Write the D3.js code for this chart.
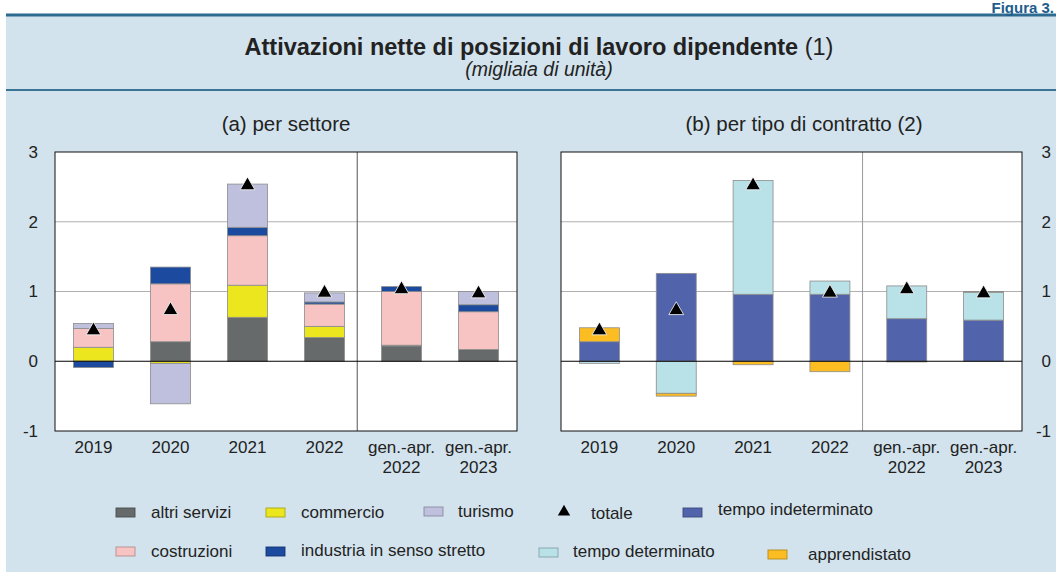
<!DOCTYPE html>
<html>
<head>
<meta charset="utf-8">
<script src="https://cdn.jsdelivr.net/npm/d3@7"></script>
<style>
  body { margin: 0; background: #fff; }
  svg { display: block; font-family: "Liberation Sans", Arial, sans-serif; }
</style>
</head>
<body>
<div id="chart"></div>
<script>
// categories on the x axis (line breaks with \n)
const categories = ["2019", "2020", "2021", "2022", "gen.-apr.\n2022", "gen.-apr.\n2023"];

// (a) per settore
const altriServizi = [0.00, 0.28, 0.63, 0.34, 0.22, 0.17];
const commercio    = [0.20, -0.03, 0.46, 0.16, 0.01, 0.00];
const costruzioni  = [0.27, 0.83, 0.71, 0.32, 0.77, 0.54];
const industria    = [-0.09, 0.24, 0.12, 0.03, 0.07, 0.10];
const turismo      = [0.07, -0.58, 0.62, 0.13, 0.00, 0.19];

// (b) per tipo di contratto
const tempoIndeterminato = [0.28, 1.26, 0.96, 0.96, 0.61, 0.59];
const tempoDeterminato   = [-0.03, -0.46, 1.63, 0.19, 0.47, 0.40];
const apprendistato      = [0.20, -0.04, -0.05, -0.15, -0.01, 0.01];

// totale (same for both panels)
const totale = [0.44, 0.73, 2.52, 0.98, 1.03, 0.97];

const yTicks = [-1, 0, 1, 2, 3];

const colors = {
  "altri servizi": "#676a6a",
  "commercio": "#ebe61e",
  "turismo": "#bfc0de",
  "costruzioni": "#f7c3c3",
  "industria in senso stretto": "#1b4a9e",
  "tempo indeterminato": "#5163ab",
  "tempo determinato": "#b8e1e8",
  "apprendistato": "#fbbd22"
};

const width = 1056;
const height = 572;
const plotTop = 152;
const plotBottom = 431;

const svg = d3.select("#chart")
  .append("svg")
  .attr("width", width)
  .attr("height", height)
  .attr("viewBox", [0, 0, width, height]);

// light blue background and the two rules of the header
svg.append("rect")
  .attr("x", 6).attr("y", 16)
  .attr("width", width - 6).attr("height", height - 16)
  .attr("fill", "#d2e3ed");

svg.append("line")
  .attr("x1", 6).attr("x2", width).attr("y1", 15).attr("y2", 15)
  .attr("stroke", "#2c6b8f").attr("stroke-width", 3);

svg.append("line")
  .attr("x1", 6).attr("x2", width).attr("y1", 90).attr("y2", 90)
  .attr("stroke", "#3a7394").attr("stroke-width", 2);

svg.append("text")
  .attr("x", 1054).attr("y", 13)
  .attr("text-anchor", "end")
  .attr("font-size", 15)
  .attr("font-weight", "bold")
  .attr("fill", "#1d5d8e")
  .text("Figura 3.");

const title = svg.append("text")
  .attr("x", 539).attr("y", 55)
  .attr("text-anchor", "middle")
  .attr("font-size", 23.5)
  .attr("fill", "#222");
title.append("tspan").attr("font-weight", "bold").text("Attivazioni nette di posizioni di lavoro dipendente");
title.append("tspan").text(" (1)");

svg.append("text")
  .attr("x", 539).attr("y", 76)
  .attr("text-anchor", "middle")
  .attr("font-size", 19.5)
  .attr("font-style", "italic")
  .attr("fill", "#222")
  .text("(migliaia di unità)");

const y = d3.scaleLinear()
  .domain([-1, 3])
  .range([plotBottom, plotTop]);

function drawPanel(opts) {
  const x = d3.scaleBand()
    .domain(categories)
    .range([opts.left, opts.right])
    .paddingInner(0.48)
    .paddingOuter(0.24);

  const rows = categories.map((c, i) => {
    const r = { cat: c };
    opts.series.forEach(s => { r[s.name] = s.values[i]; });
    return r;
  });

  const stacked = d3.stack()
    .keys(opts.series.map(s => s.name))
    .offset(d3.stackOffsetDiverging)(rows);

  const g = svg.append("g");

  // plot area
  g.append("rect")
    .attr("x", opts.left).attr("y", plotTop)
    .attr("width", opts.right - opts.left).attr("height", plotBottom - plotTop)
    .attr("fill", "#fff");

  // gridlines
  g.append("g")
    .selectAll("line")
    .data([1, 2])
    .join("line")
    .attr("x1", opts.left).attr("x2", opts.right)
    .attr("y1", d => y(d)).attr("y2", d => y(d))
    .attr("stroke", "#b0b0b0");

  // separator between years and gen.-apr.
  const sepX = x(categories[4]) - (x.step() - x.bandwidth()) / 2 - x.step() * 0.075;
  g.append("line")
    .attr("x1", sepX).attr("x2", sepX)
    .attr("y1", plotTop).attr("y2", plotBottom)
    .attr("stroke", opts.sepColor);

  // bars
  g.append("g")
    .selectAll("g")
    .data(stacked)
    .join("g")
    .attr("fill", d => colors[d.key])
    .selectAll("rect")
    .data(d => d.filter(p => Math.abs(p[1] - p[0]) > 1e-9))
    .join("rect")
    .attr("x", d => x(d.data.cat))
    .attr("y", d => y(d[1]))
    .attr("width", x.bandwidth())
    .attr("height", d => y(d[0]) - y(d[1]))
    .attr("stroke", "#8c8c8c")
    .attr("stroke-width", 0.8);

  // zero line
  g.append("line")
    .attr("x1", opts.left).attr("x2", opts.right)
    .attr("y1", y(0)).attr("y2", y(0))
    .attr("stroke", "#000").attr("stroke-width", 1.2);

  // totale
  g.append("g")
    .selectAll("path")
    .data(totale)
    .join("path")
    .attr("transform", (d, i) => `translate(${x(categories[i]) + x.bandwidth() / 2},${y(d)})`)
    .attr("d", d3.symbol(d3.symbolTriangle, 95))
    .attr("fill", "#000")
    .attr("stroke", "#fff")
    .attr("stroke-width", 0.8);

  // frame
  g.append("rect")
    .attr("x", opts.left).attr("y", plotTop)
    .attr("width", opts.right - opts.left).attr("height", plotBottom - plotTop)
    .attr("fill", "none")
    .attr("stroke", "#111");

  // x labels
  g.append("g")
    .attr("font-size", 17)
    .attr("fill", "#222")
    .attr("text-anchor", "middle")
    .selectAll("text")
    .data(categories)
    .join("text")
    .attr("x", d => x(d) + x.bandwidth() / 2)
    .attr("y", plotBottom + 22)
    .selectAll("tspan")
    .data(d => d.split("\n"))
    .join("tspan")
    .attr("x", function () { return this.parentNode.getAttribute("x"); })
    .attr("dy", (d, i) => i === 0 ? 0 : 19.5)
    .text(d => d);

  // y labels
  svg.append("g")
    .attr("transform", `translate(${opts.tickX},0)`)
    .call(d3.axisLeft(y).tickValues(yTicks).tickSize(0).tickPadding(0).tickFormat(d => String(d)))
    .call(a => a.select(".domain").remove())
    .call(a => a.selectAll("text")
      .attr("font-size", 17)
      .attr("font-family", "Liberation Sans, Arial, sans-serif")
      .attr("fill", "#222"));

  // panel title
  svg.append("text")
    .attr("x", opts.titleX).attr("y", 131)
    .attr("text-anchor", "middle")
    .attr("font-size", 20.5)
    .attr("fill", "#222")
    .text(opts.title);
}

drawPanel({
  left: 55, right: 517, tickX: 38, sepColor: "#555",
  titleX: 286, title: "(a) per settore",
  series: [
    { name: "altri servizi", values: altriServizi },
    { name: "commercio", values: commercio },
    { name: "costruzioni", values: costruzioni },
    { name: "industria in senso stretto", values: industria },
    { name: "turismo", values: turismo }
  ]
});

drawPanel({
  left: 561, right: 1022, tickX: 1051, sepColor: "#999",
  titleX: 804, title: "(b) per tipo di contratto (2)",
  series: [
    { name: "tempo indeterminato", values: tempoIndeterminato },
    { name: "tempo determinato", values: tempoDeterminato },
    { name: "apprendistato", values: apprendistato }
  ]
});

// legend layout
const legendItems = [
  { label: "altri servizi", sx: 116, sy: 508, tx: 151, ty: 518 },
  { label: "commercio", sx: 266, sy: 508, tx: 301, ty: 518 },
  { label: "turismo", sx: 424, sy: 507, tx: 458, ty: 517 },
  { label: "totale", symbol: true, sx: 564, sy: 512, tx: 591, ty: 519 },
  { label: "tempo indeterminato", sx: 683, sy: 508, tx: 718, ty: 515 },
  { label: "costruzioni", sx: 116, sy: 547, tx: 151, ty: 557 },
  { label: "industria in senso stretto", sx: 266, sy: 547, tx: 301, ty: 556 },
  { label: "tempo determinato", sx: 539, sy: 548, tx: 573, ty: 557 },
  { label: "apprendistato", sx: 768, sy: 550, tx: 808, ty: 560 }
];

const legend = svg.append("g")
  .selectAll("g")
  .data(legendItems)
  .join("g");

legend.filter(d => !d.symbol)
  .append("rect")
  .attr("x", d => d.sx).attr("y", d => d.sy)
  .attr("width", 19).attr("height", 9)
  .attr("fill", d => colors[d.label])
  .attr("stroke", d => d3.color(colors[d.label]).darker(0.9))
  .attr("stroke-width", 0.9);

legend.filter(d => d.symbol)
  .append("path")
  .attr("transform", d => `translate(${d.sx},${d.sy})`)
  .attr("d", d3.symbol(d3.symbolTriangle, 66))
  .attr("fill", "#000");

legend.append("text")
  .attr("x", d => d.tx).attr("y", d => d.ty)
  .attr("font-size", 17)
  .attr("fill", "#222")
  .text(d => d.label);
</script>
</body>
</html>
